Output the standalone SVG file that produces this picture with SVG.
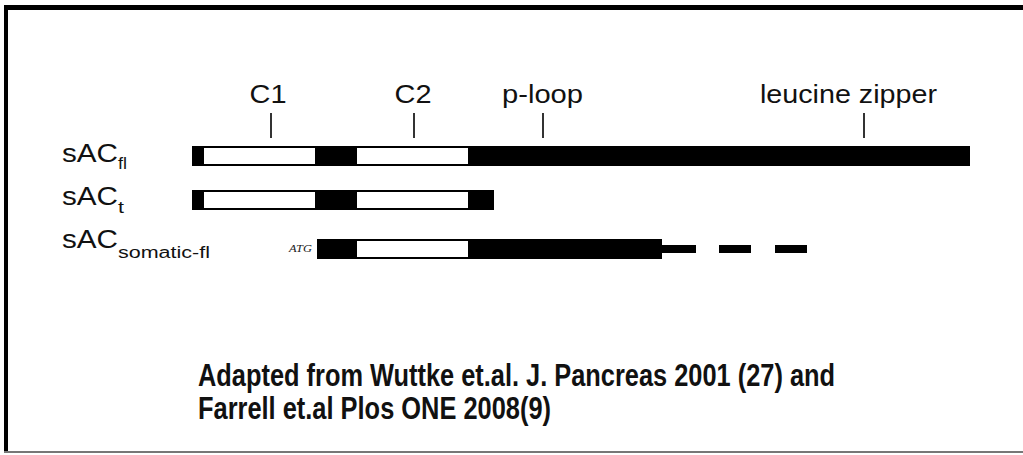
<svg xmlns="http://www.w3.org/2000/svg" width="1023" height="455" viewBox="0 0 1023 455">
  <style>
    .lbl { font-family: "Liberation Sans", Arial, sans-serif; font-size: 25px; fill: #111; }
    .sub { font-family: "Liberation Sans", Arial, sans-serif; font-size: 16px; fill: #111; }
    .cite { font-family: "Liberation Sans", Arial, sans-serif; font-size: 31px; font-weight: bold; fill: #111; }
    .atg { font-family: "Liberation Serif", serif; font-size: 11px; font-style: italic; fill: #222; }
    .blk { fill: #000; }
    .wht { fill: #fff; stroke: #000; stroke-width: 2; }
    .tick { stroke: #333; stroke-width: 2; }
  </style>

  <!-- frame -->
  <g id="frame">
    <rect x="0" y="0" width="1023" height="455" fill="#fff"/>
    <rect x="4" y="5" width="1019" height="5" fill="#000"/>
    <rect x="4" y="5" width="4" height="448" fill="#000"/>
    <rect x="4" y="451" width="1019" height="2" fill="#777"/>
  </g>

  <!-- domain markers -->
  <g id="markers">
    <text class="lbl" x="268" y="103" text-anchor="middle" textLength="37" lengthAdjust="spacingAndGlyphs">C1</text>
    <text class="lbl" x="413" y="103" text-anchor="middle" textLength="37" lengthAdjust="spacingAndGlyphs">C2</text>
    <text class="lbl" x="502" y="103" textLength="81" lengthAdjust="spacingAndGlyphs">p-loop</text>
    <text class="lbl" x="760" y="103" textLength="177" lengthAdjust="spacingAndGlyphs">leucine zipper</text>
    <line class="tick" x1="271" y1="113" x2="271" y2="138"/>
    <line class="tick" x1="414" y1="113" x2="414" y2="138"/>
    <line class="tick" x1="543" y1="113" x2="543" y2="138"/>
    <line class="tick" x1="864" y1="113" x2="864" y2="138"/>
  </g>

  <!-- full-length isoform -->
  <g id="sac-fl">
    <text class="lbl" x="62" y="162" textLength="56" lengthAdjust="spacingAndGlyphs">sAC</text>
    <text class="sub" x="118" y="169" textLength="9" lengthAdjust="spacingAndGlyphs">fl</text>
    <rect class="blk" x="192" y="146" width="778" height="20"/>
    <rect class="wht" x="203" y="147" width="113" height="18"/>
    <rect class="wht" x="356" y="147" width="113" height="18"/>
  </g>

  <!-- truncated isoform -->
  <g id="sac-t">
    <text class="lbl" x="62" y="205" textLength="56" lengthAdjust="spacingAndGlyphs">sAC</text>
    <text class="sub" x="118" y="213" textLength="6" lengthAdjust="spacingAndGlyphs">t</text>
    <rect class="blk" x="192" y="190" width="302" height="20"/>
    <rect class="wht" x="203" y="191" width="113" height="18"/>
    <rect class="wht" x="356" y="191" width="113" height="18"/>
  </g>

  <!-- somatic isoform -->
  <g id="sac-somatic">
    <text class="lbl" x="62" y="248" textLength="56" lengthAdjust="spacingAndGlyphs">sAC</text>
    <text class="sub" x="118" y="258" textLength="92" lengthAdjust="spacingAndGlyphs">somatic-fl</text>
    <text class="atg" x="289" y="252" textLength="23" lengthAdjust="spacingAndGlyphs">ATG</text>
    <rect class="blk" x="317" y="239" width="345" height="20"/>
    <rect class="wht" x="356" y="240" width="113" height="18"/>
    <rect class="blk" x="662" y="245" width="34" height="8"/>
    <rect class="blk" x="719" y="245" width="32" height="8"/>
    <rect class="blk" x="775" y="245" width="32" height="8"/>
  </g>

  <!-- citation -->
  <g id="citation">
    <text class="cite" x="198" y="386" textLength="637" lengthAdjust="spacingAndGlyphs">Adapted from Wuttke et.al. J. Pancreas 2001 (27) and</text>
    <text class="cite" x="198" y="419" textLength="353" lengthAdjust="spacingAndGlyphs">Farrell et.al Plos ONE 2008(9)</text>
  </g>
</svg>
